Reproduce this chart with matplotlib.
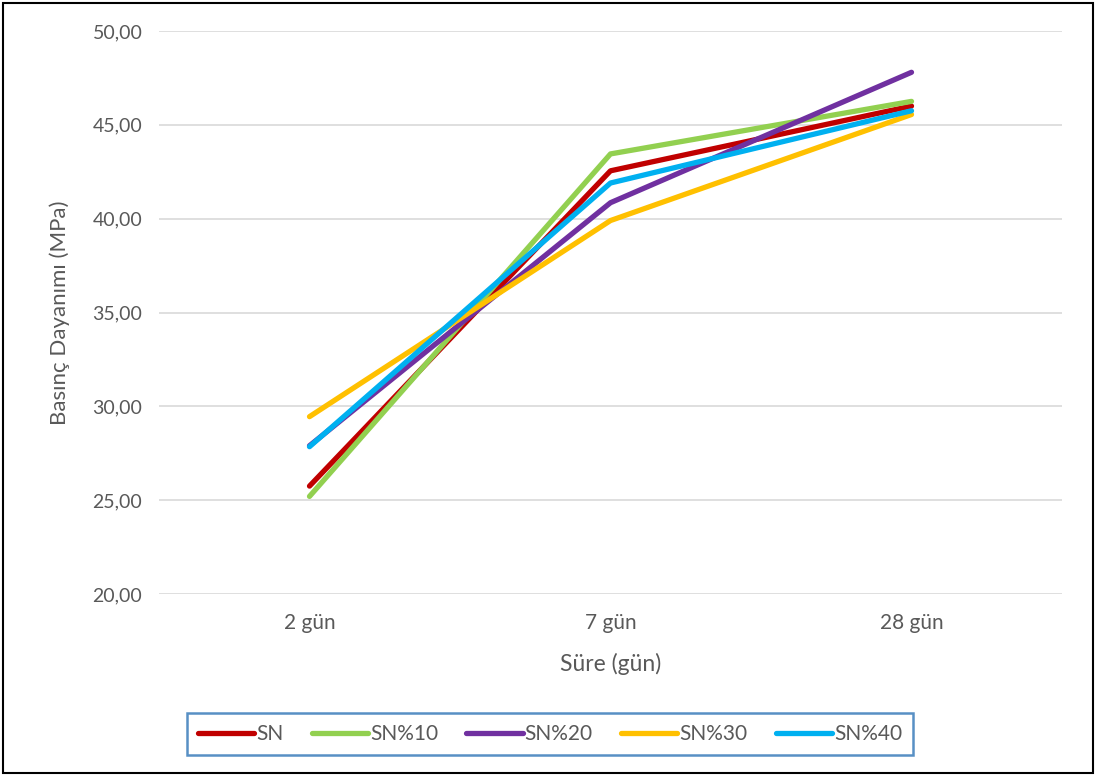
import numpy as np
import matplotlib
matplotlib.use("Agg")
import matplotlib.pyplot as plt
from matplotlib.patches import Rectangle

# Veriler
kategoriler = ["2 gün", "7 gün", "28 gün"]
sn = [25.75, 42.55, 46.00]
sn10 = [25.20, 43.45, 46.25]
sn20 = [27.90, 40.85, 47.80]
sn30 = [29.45, 39.90, 45.55]
sn40 = [27.85, 41.90, 45.75]
seriler = ["SN", "SN%10", "SN%20", "SN%30", "SN%40"]
renkler = ["#C00000", "#92D050", "#7030A0", "#FFC000", "#00B0F0"]
y_ticks = [20, 25, 30, 35, 40, 45, 50]

plt.rcParams['font.family'] = ['Lato', 'DejaVu Sans']
gri = "#595959"

fig = plt.figure(figsize=(10.96, 7.76), dpi=100)
ax = fig.add_axes([159 / 1096, 1 - 594 / 776, (1062 - 159) / 1096, (594 - 31) / 776])

x = np.arange(len(kategoriler))
for veri, ad, renk in zip([sn, sn10, sn20, sn30, sn40], seriler, renkler):
    ax.plot(x, veri, color=renk, lw=3.8, label=ad, solid_capstyle='round', solid_joinstyle='round')

ax.set_xlim(-0.5, 2.5)
ax.set_ylim(20, 50)
ax.set_yticks(y_ticks)
ax.set_yticklabels([f"{v:.2f}".replace(".", ",") for v in y_ticks])
ax.set_xticks(x)
ax.set_xticklabels(kategoriler)
ax.tick_params(axis='y', length=0, labelsize=14, colors=gri, pad=12)
ax.tick_params(axis='x', length=0, labelsize=15, colors=gri, pad=14)
ax.grid(axis='y', color='#D9D9D9', lw=1.2)
ax.set_axisbelow(True)
for s in ax.spines.values():
    s.set_visible(False)

ax.set_ylabel("Basınç Dayanımı (MPa)", fontsize=16, color=gri, labelpad=16)
ax.set_xlabel("Süre (gün)", fontsize=16.5, color=gri, labelpad=14)

leg = fig.legend(loc='center', bbox_to_anchor=(550 / 1096, 1 - 734 / 776), ncol=5,
                 fontsize=15, frameon=True, fancybox=False, handlelength=2.7,
                 handletextpad=0.1, columnspacing=1.35, borderpad=0.55)
leg.get_frame().set_edgecolor('#2E75B6')
leg.get_frame().set_linewidth(1.8)
for t in leg.get_texts():
    t.set_color(gri)

# Dış çerçeve
fig.patches.append(Rectangle((3 / 1096, 3 / 776), 1 - 6 / 1096, 1 - 6 / 776,
                             transform=fig.transFigure, fill=False, edgecolor='black', lw=1.5))

fig.savefig("out.png", dpi=100)
